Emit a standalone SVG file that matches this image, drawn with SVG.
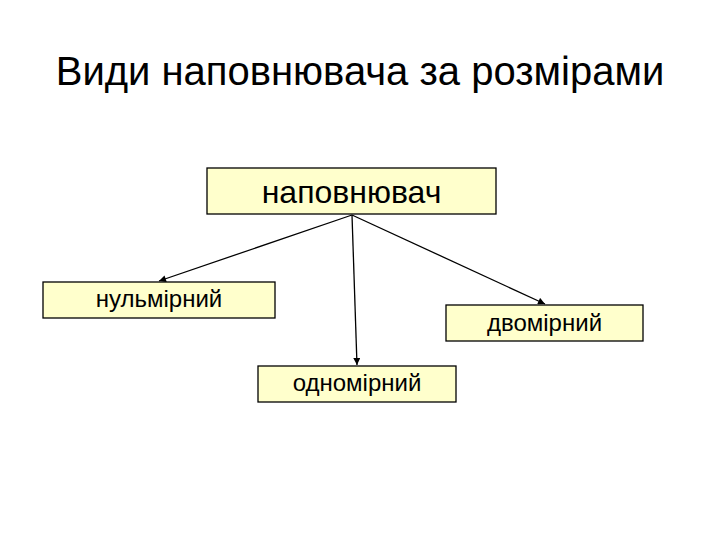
<svg xmlns="http://www.w3.org/2000/svg" width="720" height="540" viewBox="0 0 720 540">
<defs>
<marker id="ah" viewBox="0 0 10 10" refX="10" refY="5" markerWidth="9" markerHeight="7" markerUnits="userSpaceOnUse" orient="auto"><path d="M0,0 L10,5 L0,10 z" fill="#000"/></marker>
<style>
.box{fill:#FFFFCC;stroke:#000;stroke-width:1.3}
.t{font-family:"Liberation Sans",Arial,sans-serif;fill:#000;text-anchor:middle}
.c{stroke:#000;stroke-width:1.3;fill:none;marker-end:url(#ah)}
</style>
</defs>
<rect width="720" height="540" fill="#fff"/>
<text class="t" x="360" y="85" font-size="40">Види наповнювача за розмірами</text>
<g id="connectors">
<line class="c" x1="352" y1="215" x2="159" y2="281"/>
<line class="c" x1="352" y1="215" x2="357" y2="365"/>
<line class="c" x1="352" y1="215" x2="545" y2="304"/>
</g>
<g id="n-napovniuvach">
<rect class="box" x="207" y="168" width="289" height="46"/>
<text class="t" x="351.5" y="203" font-size="32">наповнювач</text>
</g>
<g id="n-nulmirnyi">
<rect class="box" x="43" y="282" width="232" height="36"/>
<text class="t" x="159" y="307" font-size="24">нульмірний</text>
</g>
<g id="n-odnomirnyi">
<rect class="box" x="258" y="366" width="198" height="36"/>
<text class="t" x="357" y="391" font-size="24">одномірний</text>
</g>
<g id="n-dvomirnyi">
<rect class="box" x="446" y="305" width="197" height="36"/>
<text class="t" x="544.5" y="331" font-size="24">двомірний</text>
</g>
</svg>
